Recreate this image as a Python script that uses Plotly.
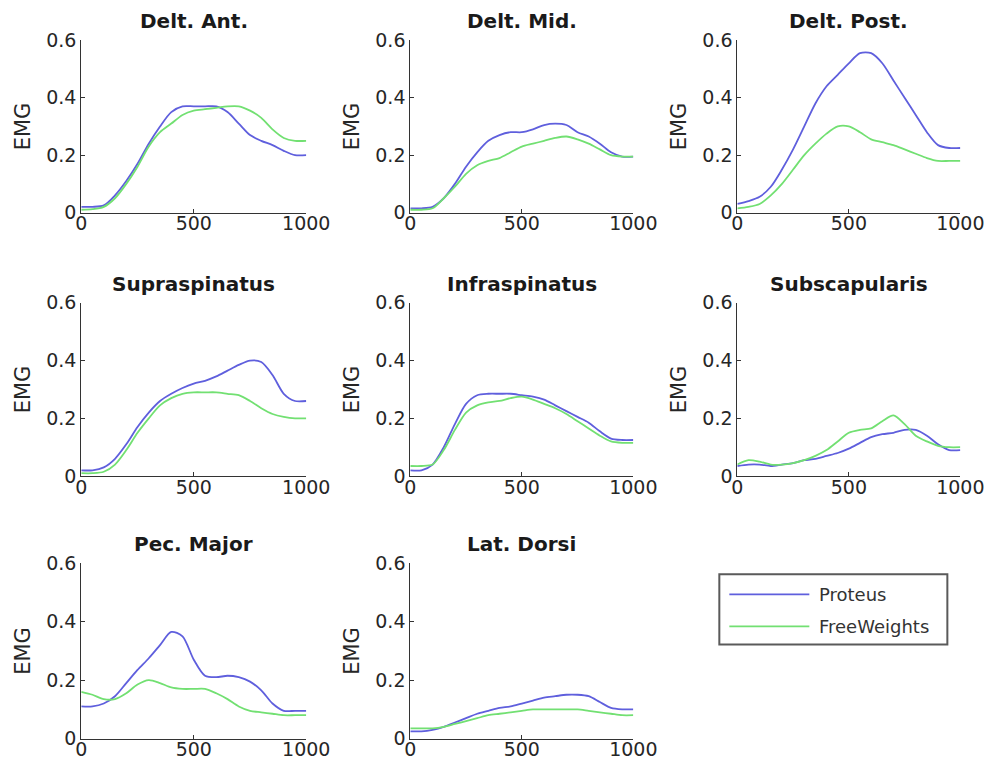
import plotly.graph_objects as go

x = [0, 50, 100, 150, 200, 250, 300, 350, 400, 450, 500, 550, 600, 650, 700, 750, 800, 850, 900, 950, 1000]

titles = ["Delt. Ant.", "Delt. Mid.", "Delt. Post.", "Supraspinatus", "Infraspinatus",
          "Subscapularis", "Pec. Major", "Lat. Dorsi"]
series_names = ["Proteus", "FreeWeights"]

proteus_delt_ant = [0.02, 0.02, 0.025, 0.06, 0.11, 0.17, 0.24, 0.30, 0.35, 0.37, 0.37, 0.37, 0.37, 0.35, 0.31, 0.27, 0.25, 0.235, 0.215, 0.20, 0.20]
free_delt_ant = [0.01, 0.012, 0.02, 0.05, 0.10, 0.16, 0.23, 0.28, 0.31, 0.34, 0.355, 0.36, 0.365, 0.37, 0.37, 0.355, 0.33, 0.29, 0.26, 0.25, 0.25]

proteus_delt_mid = [0.015, 0.015, 0.02, 0.05, 0.10, 0.16, 0.21, 0.25, 0.27, 0.28, 0.28, 0.29, 0.305, 0.31, 0.305, 0.28, 0.265, 0.24, 0.21, 0.195, 0.195]
free_delt_mid = [0.01, 0.01, 0.015, 0.05, 0.09, 0.135, 0.165, 0.18, 0.19, 0.21, 0.23, 0.24, 0.25, 0.26, 0.265, 0.255, 0.24, 0.22, 0.20, 0.195, 0.195]

proteus_delt_post = [0.03, 0.04, 0.055, 0.09, 0.15, 0.22, 0.30, 0.38, 0.44, 0.48, 0.52, 0.555, 0.555, 0.52, 0.46, 0.40, 0.34, 0.28, 0.235, 0.225, 0.225]
free_delt_post = [0.015, 0.02, 0.03, 0.06, 0.10, 0.15, 0.20, 0.24, 0.275, 0.30, 0.30, 0.28, 0.255, 0.245, 0.235, 0.22, 0.205, 0.19, 0.18, 0.18, 0.18]

proteus_supra = [0.02, 0.02, 0.03, 0.06, 0.11, 0.17, 0.22, 0.26, 0.285, 0.305, 0.32, 0.33, 0.345, 0.365, 0.385, 0.40, 0.395, 0.35, 0.285, 0.26, 0.26]
free_supra = [0.01, 0.01, 0.015, 0.04, 0.09, 0.15, 0.20, 0.245, 0.27, 0.285, 0.29, 0.29, 0.29, 0.285, 0.28, 0.26, 0.235, 0.215, 0.205, 0.20, 0.20]

proteus_infra = [0.02, 0.02, 0.04, 0.10, 0.18, 0.25, 0.28, 0.285, 0.285, 0.285, 0.28, 0.275, 0.265, 0.245, 0.225, 0.205, 0.185, 0.155, 0.13, 0.125, 0.125]
free_infra = [0.035, 0.035, 0.04, 0.09, 0.16, 0.22, 0.245, 0.255, 0.26, 0.27, 0.275, 0.265, 0.25, 0.235, 0.215, 0.19, 0.165, 0.14, 0.12, 0.115, 0.115]

proteus_subscap = [0.035, 0.04, 0.04, 0.035, 0.04, 0.045, 0.055, 0.06, 0.07, 0.08, 0.095, 0.115, 0.135, 0.145, 0.15, 0.16, 0.16, 0.14, 0.11, 0.09, 0.09]
free_subscap = [0.04, 0.055, 0.05, 0.04, 0.04, 0.045, 0.055, 0.07, 0.09, 0.12, 0.15, 0.16, 0.165, 0.19, 0.21, 0.18, 0.14, 0.12, 0.105, 0.10, 0.10]

proteus_pec = [0.11, 0.11, 0.12, 0.145, 0.19, 0.235, 0.275, 0.32, 0.365, 0.35, 0.27, 0.215, 0.21, 0.215, 0.21, 0.195, 0.165, 0.12, 0.095, 0.095, 0.095]
free_pec = [0.16, 0.15, 0.135, 0.135, 0.155, 0.185, 0.20, 0.19, 0.175, 0.17, 0.17, 0.17, 0.155, 0.135, 0.11, 0.095, 0.09, 0.085, 0.08, 0.08, 0.08]

proteus_lat = [0.025, 0.025, 0.03, 0.04, 0.055, 0.07, 0.085, 0.095, 0.105, 0.11, 0.12, 0.13, 0.14, 0.145, 0.15, 0.15, 0.145, 0.125, 0.105, 0.10, 0.10]
free_lat = [0.035, 0.035, 0.035, 0.04, 0.05, 0.06, 0.07, 0.08, 0.085, 0.09, 0.095, 0.10, 0.10, 0.10, 0.10, 0.10, 0.095, 0.09, 0.085, 0.08, 0.08]

proteus = [proteus_delt_ant, proteus_delt_mid, proteus_delt_post, proteus_supra,
           proteus_infra, proteus_subscap, proteus_pec, proteus_lat]
free = [free_delt_ant, free_delt_mid, free_delt_post, free_supra,
        free_infra, free_subscap, free_pec, free_lat]

x_ticks = [0, 500, 1000]
y_ticks = [0, 0.2, 0.4, 0.6]
y_tick_text = ["0", "0.2", "0.4", "0.6"]

# Layout geometry (target pixel positions in the 989x772 picture)
SCALE, OFF, DY = 0.97, 8, 3
W, H = 1004, 780
col_px = [(83, 308), (412, 635), (739, 962)]
row_px = [(40, 212), (302, 475), (562, 737)]


def px_x(v):
    return (v / SCALE - OFF) / W


def px_y(v):
    return 1 - ((v - DY) / SCALE - OFF) / H


BLUE = "#5f5fdd"
GREEN = "#72e072"
COLORS = [BLUE, GREEN]
FONT = "DejaVu Sans, Liberation Sans, Arial, sans-serif"
TXT = "#262626"

fig = go.Figure()
annotations = []
for i, t in enumerate(titles):
    r, c = divmod(i, 3)
    n = i + 1
    xa = "x" if n == 1 else f"x{n}"
    ya = "y" if n == 1 else f"y{n}"
    for name, ys, col in zip(series_names, [proteus[i], free[i]], COLORS):
        fig.add_trace(go.Scatter(x=x, y=ys, mode="lines", name=name,
                                 line=dict(color=col, width=1.8, shape="spline", smoothing=0.8),
                                 xaxis=xa, yaxis=ya, showlegend=False))
    x0, x1 = col_px[c]
    y0, y1 = row_px[r]
    xd = [px_x(x0), px_x(x1)]
    yd = [px_y(y1), px_y(y0)]
    axkey = "xaxis" if n == 1 else f"xaxis{n}"
    aykey = "yaxis" if n == 1 else f"yaxis{n}"
    fig.layout[axkey] = dict(domain=xd, anchor=ya, range=[0, 1000], tickvals=x_ticks,
                             ticktext=[str(v) for v in x_ticks],
                             showline=True, linecolor="#333333", linewidth=1,
                             ticks="inside", ticklen=4, tickcolor="#333333",
                             showgrid=False, zeroline=False, ticklabelstandoff=-6,
                             tickfont=dict(family=FONT, size=19, color=TXT))
    fig.layout[aykey] = dict(domain=yd, anchor=xa, range=[0, 0.6], tickvals=y_ticks,
                             ticktext=y_tick_text,
                             showline=True, linecolor="#333333", linewidth=1,
                             ticks="inside", ticklen=4, tickcolor="#333333",
                             showgrid=False, zeroline=False,
                             tickfont=dict(family=FONT, size=19, color=TXT),
                             title=dict(text="EMG", standoff=9,
                                        font=dict(family=FONT, size=21, color=TXT)))
    annotations.append(dict(text=f"<b>{t}</b>", x=(xd[0] + xd[1]) / 2, y=yd[1],
                            xref="paper", yref="paper", xanchor="center",
                            yanchor="bottom", yshift=5, showarrow=False,
                            font=dict(family=FONT, size=20, color="#1a1a1a")))

# Legend box (drawn like MATLAB's legend)
lx0, lx1, ly0, ly1 = 721, 949, 573, 643
shapes = [dict(type="rect", xref="paper", yref="paper",
               x0=px_x(lx0), x1=px_x(lx1), y0=px_y(ly1), y1=px_y(ly0),
               line=dict(color="#5a5a5a", width=2), fillcolor="white", layer="below")]
for k, (name, col) in enumerate(zip(series_names, COLORS)):
    yy = px_y(593 + 32 * k)
    shapes.append(dict(type="line", xref="paper", yref="paper",
                       x0=px_x(731), x1=px_x(811), y0=yy, y1=yy,
                       line=dict(color=col, width=1.8)))
    annotations.append(dict(text=name, x=px_x(819), y=yy, xref="paper", yref="paper",
                            xanchor="left", yanchor="middle", showarrow=False,
                            font=dict(family=FONT, size=18, color="#333333")))

fig.update_layout(
    width=W, height=H,
    margin=dict(l=0, r=0, t=0, b=0),
    paper_bgcolor="white", plot_bgcolor="white",
    annotations=annotations, shapes=shapes,
    showlegend=False,
)

fig.write_html("out.html")
